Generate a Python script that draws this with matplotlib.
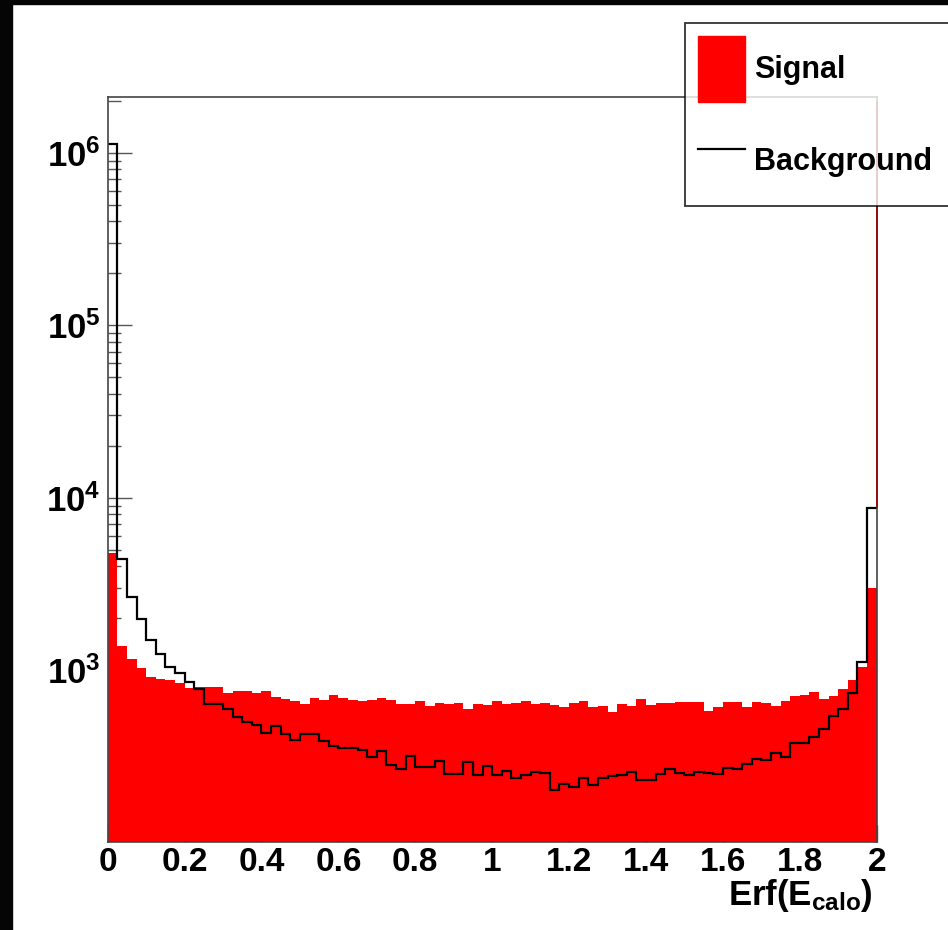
import numpy as np
import matplotlib.pyplot as plt
from matplotlib.patches import Patch, Rectangle
from matplotlib.lines import Line2D
from matplotlib.ticker import FixedLocator, LogLocator, NullFormatter, FuncFormatter

# === フォント設定 ===
plt.rcParams['font.family'] = ['Liberation Sans', 'DejaVu Sans']
plt.rcParams['font.weight'] = 'bold'
plt.rcParams['mathtext.fontset'] = 'custom'
plt.rcParams['mathtext.rm'] = 'Liberation Sans:bold'
plt.rcParams['mathtext.bf'] = 'Liberation Sans:bold'
plt.rcParams['mathtext.it'] = 'Liberation Sans:bold'

# === データ (80 bins, 0-2) ===
x_min, x_max, n_bins = 0.0, 2.0, 80

signal = [
    4770, 1381, 1157, 1030, 909, 893, 877, 840, 785, 802,
    802, 802, 741, 755, 761, 741, 761, 697, 678, 665,
    637, 687, 672, 718, 687, 669, 666, 672, 687, 669,
    637, 637, 660, 620, 645, 637, 645, 593, 634, 626,
    666, 637, 648, 666, 637, 643, 626, 614, 648, 660,
    609, 623, 570, 634, 620, 678, 630, 648, 648, 657,
    657, 657, 580, 614, 657, 657, 614, 657, 648, 623,
    663, 709, 718, 745, 678, 709, 781, 877, 1039, 2985,
]

background = [
    1.13e6, 4415, 2646, 1973, 1490, 1241, 1048, 959, 854, 775,
    634, 634, 598, 538, 499, 481, 431, 477, 427, 392,
    425, 425, 390, 364, 352, 352, 345, 313, 340, 281,
    266, 318, 276, 276, 299, 252, 252, 292, 246, 280,
    246, 261, 238, 248, 258, 255, 202, 219, 211, 239,
    217, 238, 244, 246, 258, 231, 231, 250, 266, 253,
    247, 258, 255, 250, 270, 266, 285, 304, 302, 330,
    315, 380, 380, 408, 454, 543, 598, 741, 1120, 8680,
]

# x=2 の端に立つ信号のスパイク
signal_edge_spike = 2.0e6

x_ticks = [0, 0.2, 0.4, 0.6, 0.8, 1.0, 1.2, 1.4, 1.6, 1.8, 2.0]
y_major = [1e3, 1e4, 1e5, 1e6]

# === 図 ===
fig = plt.figure(figsize=(9.48, 9.30), dpi=100)
ax = fig.add_axes([0.1136, 0.0949, 0.8112, 0.8011])

edges = np.linspace(x_min, x_max, n_bins + 1)
ax.stairs(signal, edges, fill=True, color='#ff0000', baseline=1, zorder=1)
ax.stairs(background, edges, color='black', lw=1.6, baseline=None, zorder=2)
ax.vlines(x_max, background[-1], signal_edge_spike, colors='#a00000', lw=1.2,
          zorder=3, clip_on=False)

ax.set_yscale('log')
ax.set_xlim(x_min, x_max)
ax.set_ylim(101.4, 2.11e6)
ax.set_axisbelow(True)

# === 軸 ===
ax.set_xticks(x_ticks)
ax.xaxis.set_major_formatter(FuncFormatter(lambda v, p: f'{v:g}'))
ax.tick_params(axis='x', direction='in', length=12, width=1, color='#555555',
               labelsize=24, pad=4, top=False)

ax.yaxis.set_major_locator(FixedLocator(y_major))
ax.yaxis.set_major_formatter(FuncFormatter(lambda v, p: r'$\mathbf{10^{%d}}$' % round(np.log10(v))))
ax.yaxis.set_minor_locator(LogLocator(base=10, subs=np.arange(2, 10), numticks=20))
ax.yaxis.set_minor_formatter(NullFormatter())
ax.tick_params(axis='y', which='major', direction='in', length=17, width=1,
               color='#555555', labelsize=25, pad=5, right=False)
ax.tick_params(axis='y', which='minor', direction='in', length=9.5, width=1,
               color='#555555', right=False)

for s in ax.spines.values():
    s.set_color('#444444')
    s.set_linewidth(1.2)

ax.text(0.995, -0.047, r'$\mathbf{Erf(E_{calo})}$', transform=ax.transAxes,
        ha='right', va='top', fontsize=25)

# === 凡例 ===
handles = [Patch(facecolor='#ff0000', edgecolor='#ff0000'),
           Line2D([], [], color='black', lw=1.6)]
leg = fig.legend(handles, ['Signal', 'Background'], loc='upper left',
                 bbox_to_anchor=(684.7 / 948, 1 - 208.3 / 930, 0.3, (208.3 - 22.7) / 930),
                 mode='expand', fontsize=22, frameon=True, fancybox=False,
                 borderpad=0.42, borderaxespad=0, handlelength=1.55,
                 handleheight=2.95, labelspacing=0.85, handletextpad=0.31)
leg.get_frame().set_edgecolor('black')
leg.get_frame().set_linewidth(1.3)

# === 外枠 (黒) ===
fig.add_artist(Rectangle((0, 0), 11.7 / 948, 1, transform=fig.transFigure,
                         color='#050505', zorder=0))
fig.add_artist(Rectangle((0, 1 - 4 / 930), 1, 4 / 930, transform=fig.transFigure,
                         color='#050505', zorder=0))

fig.savefig('out.png', dpi=100)
